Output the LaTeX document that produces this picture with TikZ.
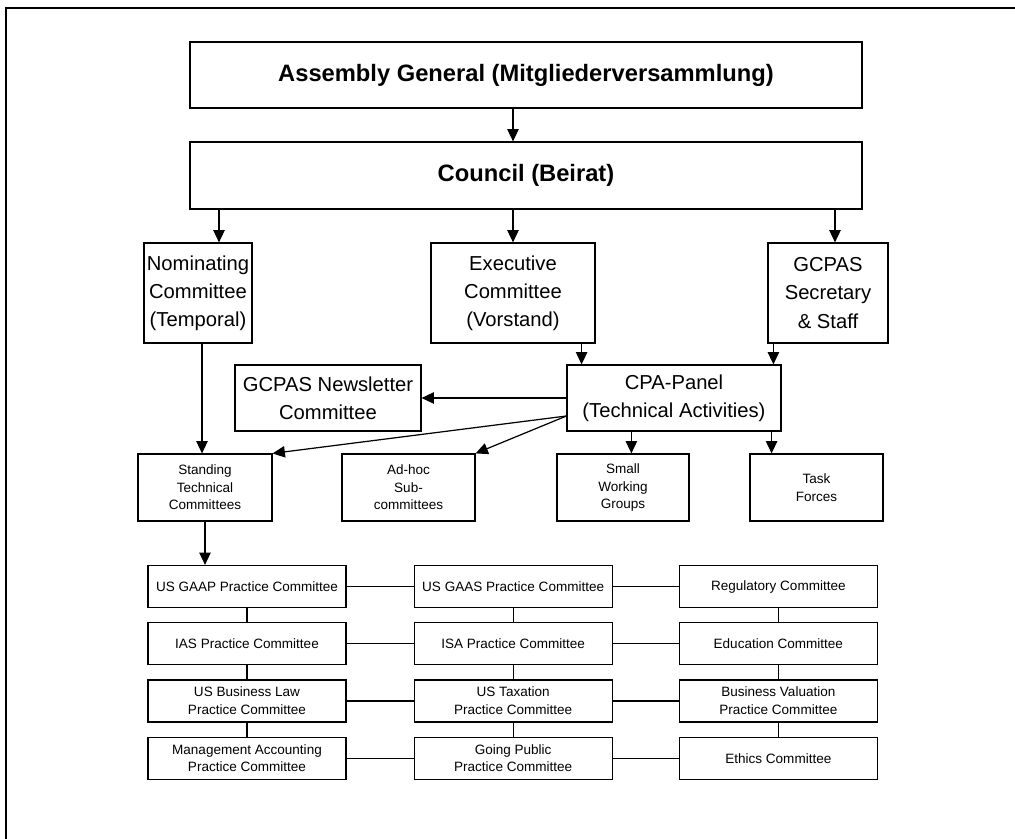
\documentclass[tikz,border=0pt]{standalone}
\usepackage{fontspec}
\setmainfont{Liberation Sans}
\usetikzlibrary{arrows.meta,positioning}

\begin{document}
\begin{tikzpicture}[x=0.02cm,y=-0.02cm,
	box/.style={draw,line width=0.7pt,inner sep=0pt,align=center},
	bigfont/.style={font=\fontsize{13.5}{16}\selectfont\bfseries},
	midfont/.style={font=\fontsize{11.5}{16}\selectfont},
	smallfont/.style={font=\fontsize{7.7}{10}\selectfont},
	gridbox/.style={box,smallfont,minimum width=3.96cm,minimum height=0.84cm},
	arr/.style={-{Triangle[length=7pt,width=6.5pt]},line width=0.7pt},
	link/.style={line width=0.7pt}]
	\useasboundingbox (0,0) rectangle (1015,839);
	%Outer frame, only top and left visible
	\draw [line width=0.9pt] (6,839) -- (6,8) -- (1015,8);
	%Top of the chart
	\node [box,bigfont,minimum width=13.44cm,minimum height=1.32cm] (assembly) at (526,75) {Assembly General (Mitgliederversammlung)};
	\node [box,bigfont,minimum width=13.44cm,minimum height=1.34cm] (council) at (526,175.5) {Council (Beirat)};
	%Second level
	\node [box,midfont,minimum width=2.16cm,minimum height=2cm] (nominating) at (198,293) {Nominating\\Committee\\(Temporal)};
	\node [box,midfont,minimum width=3.28cm,minimum height=2cm] (executive) at (513,293) {Executive\\Committee\\(Vorstand)};
	\node [box,midfont,minimum width=2.4cm,minimum height=2cm] (secretary) at (828,293) {GCPAS\\Secretary\\\& Staff};
	%Panel level
	\node [box,midfont,minimum width=3.72cm,minimum height=1.32cm] (newsletter) at (328,398) {GCPAS Newsletter\\Committee};
	\node [box,midfont,minimum width=4.28cm,minimum height=1.32cm] (cpapanel) at (674,398) {CPA-Panel\\(Technical Activities)};
	%Third level
	\node [box,smallfont,minimum width=2.68cm,minimum height=1.34cm] (standing) at (205,487.5) {Standing\\Technical\\Committees};
	\node [box,smallfont,minimum width=2.66cm,minimum height=1.34cm] (adhoc) at (408.5,487.5) {Ad-hoc\\Sub-\\committees};
	\node [box,smallfont,minimum width=2.64cm,minimum height=1.34cm] (smallwg) at (623,487.5) {Small\\Working\\Groups};
	\node [box,smallfont,minimum width=2.66cm,minimum height=1.34cm] (taskforces) at (816.5,487.5) {Task\\Forces};
	%Committees grid
	\node [gridbox] (usgaap) at (247,586.5) {US GAAP Practice Committee};
	\node [gridbox,right=1.34cm of usgaap] (usgaas) {US GAAS Practice Committee};
	\node [gridbox,right=1.32cm of usgaas] (regulatory) {Regulatory Committee};
	\node [gridbox,below=0.28cm of usgaap] (ias) {IAS Practice Committee};
	\node [gridbox,below=0.28cm of usgaas] (isa) {ISA Practice Committee};
	\node [gridbox,below=0.28cm of regulatory] (education) {Education Committee};
	\node [gridbox,below=0.28cm of ias] (buslaw) {US Business Law\\Practice Committee};
	\node [gridbox,below=0.28cm of isa] (taxation) {US Taxation\\Practice Committee};
	\node [gridbox,below=0.28cm of education] (valuation) {Business Valuation\\Practice Committee};
	\node [gridbox,below=0.28cm of buslaw] (management) {Management Accounting\\Practice Committee};
	\node [gridbox,below=0.28cm of taxation] (goingpublic) {Going Public\\Practice Committee};
	\node [gridbox,below=0.28cm of valuation] (ethics) {Ethics Committee};
	%Arrows from the top
	\draw [arr] (assembly.south -| executive) -- (council.north -| executive);
	\coordinate (nomin) at ([xshift=0.42cm]nominating.north);
	\draw [arr] (council.south -| nomin) -- (nomin);
	\draw [arr] (council.south -| executive) -- (executive.north);
	\coordinate (secin) at ([xshift=0.14cm]secretary.north);
	\draw [arr] (council.south -| secin) -- (secin);
	%Arrows into the panel level
	\coordinate (nomout) at ([xshift=0.08cm]nominating.south);
	\draw [arr] (nomout) -- (nomout |- standing.north);
	\coordinate (exout) at ([xshift=-0.28cm]executive.south east);
	\draw [arr] (exout) -- (exout |- cpapanel.north);
	\coordinate (secout) at ([xshift=0.12cm]secretary.south west);
	\draw [arr] (secout) -- (secout |- cpapanel.north);
	%Arrows out of the CPA-Panel
	\draw [arr] (cpapanel.west) -- (newsletter.east);
	\coordinate (fan) at ([yshift=-0.36cm]cpapanel.west);
	\draw [arr] (fan) -- (standing.north east);
	\draw [arr] (fan) -- (adhoc.north east);
	\coordinate (wgin) at ([xshift=1.3cm]cpapanel.south west);
	\draw [arr] (wgin) -- (wgin |- smallwg.north);
	\coordinate (tfin) at ([xshift=-0.2cm]cpapanel.south east);
	\draw [arr] (tfin) -- (tfin |- taskforces.north);
	\draw [arr] (standing.south) -- (standing.south |- usgaap.north);
	%Grid lines between the committees
	\draw [link] (usgaap) -- (usgaas);
	\draw [link] (usgaas) -- (regulatory);
	\draw [link] (ias) -- (isa);
	\draw [link] (isa) -- (education);
	\draw [link] (buslaw) -- (taxation);
	\draw [link] (taxation) -- (valuation);
	\draw [link] (management) -- (goingpublic);
	\draw [link] (goingpublic) -- (ethics);
	\draw [link] (usgaap) -- (ias);
	\draw [link] (ias) -- (buslaw);
	\draw [link] (buslaw) -- (management);
	\draw [link] (usgaas) -- (isa);
	\draw [link] (isa) -- (taxation);
	\draw [link] (taxation) -- (goingpublic);
	\draw [link] (regulatory) -- (education);
	\draw [link] (education) -- (valuation);
	\draw [link] (valuation) -- (ethics);
\end{tikzpicture}
\end{document}
